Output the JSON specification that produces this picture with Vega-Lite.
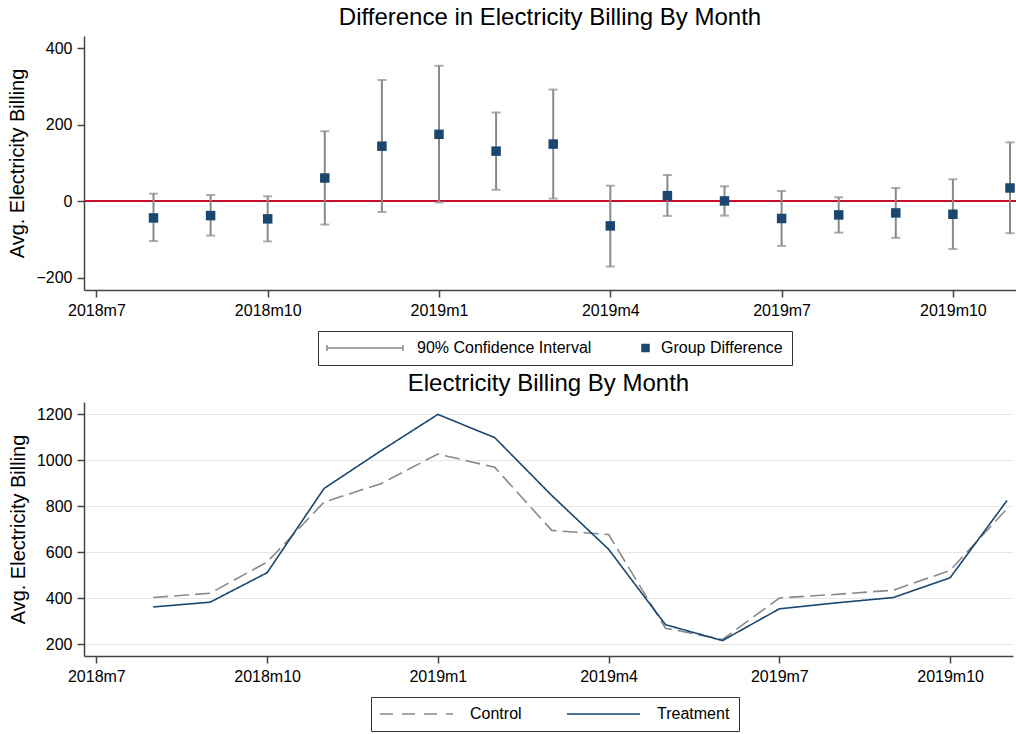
{
  "$schema": "https://vega.github.io/schema/vega-lite/v6.json",
  "background": "white",
  "padding": {"left": 7, "top": 6, "right": 0, "bottom": 0},
  "spacing": 6,
  "align": "none",
  "config": {
    "font": "Liberation Sans",
    "view": {"stroke": null},
    "title": {"fontSize": 24, "fontWeight": "normal", "color": "#000", "font": "Liberation Sans", "offset": 6},
    "axis": {
      "labelFont": "Liberation Sans", "titleFont": "Liberation Sans",
      "labelFontSize": 16, "titleFontSize": 20, "titleFontWeight": "normal",
      "labelColor": "#000", "titleColor": "#000",
      "domainColor": "#444", "tickColor": "#444", "domainWidth": 1.5, "tickWidth": 1.5, "tickSize": 7,
      "labelPadding": 5
    },
    "legend": {"labelFont": "Liberation Sans", "labelFontSize": 16, "labelColor": "#000", "labelLimit": 0}
  },
  "resolve": {"scale": {"color": "independent", "x": "independent", "y": "independent"}, "legend": {"color": "independent"}},
  "vconcat": [
    {
      "title": {"text": "Difference in Electricity Billing By Month"},
      "width": 932,
      "height": 254,
      "data": {"values": [
        {"month": "2018m8", "diff": -43.6, "lo": -104, "hi": 19.8},
        {"month": "2018m9", "diff": -37.5, "lo": -89.7, "hi": 16.4},
        {"month": "2018m10", "diff": -46, "lo": -105, "hi": 13},
        {"month": "2018m11", "diff": 60.8, "lo": -61, "hi": 183},
        {"month": "2018m12", "diff": 144, "lo": -28, "hi": 317},
        {"month": "2019m1", "diff": 175, "lo": -3, "hi": 354},
        {"month": "2019m2", "diff": 131, "lo": 30, "hi": 232},
        {"month": "2019m3", "diff": 149.5, "lo": 7, "hi": 292},
        {"month": "2019m4", "diff": -64.4, "lo": -170.6, "hi": 40.7},
        {"month": "2019m5", "diff": 14.6, "lo": -38.4, "hi": 68.6},
        {"month": "2019m6", "diff": 0.8, "lo": -37.5, "hi": 39},
        {"month": "2019m7", "diff": -45, "lo": -116.6, "hi": 27},
        {"month": "2019m8", "diff": -35.7, "lo": -82, "hi": 10.4},
        {"month": "2019m9", "diff": -30.5, "lo": -95.7, "hi": 34.7},
        {"month": "2019m10", "diff": -34, "lo": -125, "hi": 57.4},
        {"month": "2019m11", "diff": 34.7, "lo": -83.5, "hi": 154}
      ]},
      "layer": [
        {
          "mark": {"type": "rule", "color": "#c8102e", "strokeWidth": 1.6},
          "encoding": {
            "y": {"datum": 0, "type": "quantitative", "title": "Avg. Electricity Billing",
              "scale": {"domain": [-232, 432], "nice": false, "zero": false},
              "axis": {"values": [-200, 0, 200, 400], "grid": false, "titlePadding": 8}}
          }
        },
        {
          "mark": {"type": "rule", "strokeWidth": 2},
          "encoding": {
            "x": {"field": "month", "type": "ordinal", "title": null,
              "scale": {"type": "point", "domain": ["2018m7","2018m8","2018m9","2018m10","2018m11","2018m12","2019m1","2019m2","2019m3","2019m4","2019m5","2019m6","2019m7","2019m8","2019m9","2019m10","2019m11"], "padding": 0.161, "align": 0.674},
              "axis": {"values": ["2018m7","2018m10","2019m1","2019m4","2019m7","2019m10"], "labelAngle": 0, "grid": false, "labelPadding": 5}},
            "y": {"field": "lo", "type": "quantitative", "title": "Avg. Electricity Billing"},
            "y2": {"field": "hi"},
            "color": {"datum": "90% Confidence Interval", "type": "nominal",
              "scale": {"domain": ["90% Confidence Interval", "Group Difference"], "range": ["#8a8a8a", "#1a476f"]},
              "legend": {
                "title": null, "orient": "none", "legendX": 234, "legendY": 295, "direction": "horizontal",
                "strokeColor": "#333", "padding": 9, "columnPadding": 47, "symbolSize": 100,
                "labelFontSize": 16,
                "encode": {
                  "symbols": {"update": {
                    "shape": {"signal": "datum.value === 'Group Difference' ? 'square' : 'M-7.6,0H7.6M-7.6,-0.6V0.6M7.6,-0.6V0.6'"},
                    "size": {"signal": "datum.value === 'Group Difference' ? 49 : 100"},
                    "x": {"signal": "datum.value === 'Group Difference' ? 3.5 : 38"},
                    "fill": {"signal": "datum.value === 'Group Difference' ? '#1a476f' : 'transparent'"},
                    "stroke": {"signal": "datum.value === 'Group Difference' ? 'transparent' : '#8a8a8a'"},
                    "strokeWidth": {"value": 1.5},
                    "opacity": {"value": 1}
                  }},
                  "labels": {"update": {"x": {"signal": "datum.value === 'Group Difference' ? 19 : 90"}}}
                }
              }}
          }
        },
        {
          "mark": {"type": "tick", "thickness": 2, "size": 9, "color": "#8a8a8a"},
          "encoding": {
            "x": {"field": "month", "type": "ordinal"},
            "y": {"field": "lo", "type": "quantitative", "title": "Avg. Electricity Billing"}
          }
        },
        {
          "mark": {"type": "tick", "thickness": 2, "size": 9, "color": "#8a8a8a"},
          "encoding": {
            "x": {"field": "month", "type": "ordinal"},
            "y": {"field": "hi", "type": "quantitative", "title": "Avg. Electricity Billing"}
          }
        },
        {
          "mark": {"type": "point", "shape": "square", "filled": true, "size": 90, "opacity": 1},
          "encoding": {
            "x": {"field": "month", "type": "ordinal"},
            "y": {"field": "diff", "type": "quantitative", "title": "Avg. Electricity Billing"},
            "color": {"datum": "Group Difference", "type": "nominal"}
          }
        }
      ]
    },
    {
      "title": {"text": "Electricity Billing By Month"},
      "width": 929,
      "height": 254,
      "data": {"values": [
        {"month": "2018m8", "group": "Control", "billing": 404},
        {"month": "2018m9", "group": "Control", "billing": 423},
        {"month": "2018m10", "group": "Control", "billing": 558},
        {"month": "2018m11", "group": "Control", "billing": 819},
        {"month": "2018m12", "group": "Control", "billing": 899},
        {"month": "2019m1", "group": "Control", "billing": 1028},
        {"month": "2019m2", "group": "Control", "billing": 970},
        {"month": "2019m3", "group": "Control", "billing": 696},
        {"month": "2019m4", "group": "Control", "billing": 678},
        {"month": "2019m5", "group": "Control", "billing": 271},
        {"month": "2019m6", "group": "Control", "billing": 222},
        {"month": "2019m7", "group": "Control", "billing": 402},
        {"month": "2019m8", "group": "Control", "billing": 418},
        {"month": "2019m9", "group": "Control", "billing": 436},
        {"month": "2019m10", "group": "Control", "billing": 522},
        {"month": "2019m11", "group": "Control", "billing": 790},
        {"month": "2018m8", "group": "Treatment", "billing": 363},
        {"month": "2018m9", "group": "Treatment", "billing": 384},
        {"month": "2018m10", "group": "Treatment", "billing": 512},
        {"month": "2018m11", "group": "Treatment", "billing": 878},
        {"month": "2018m12", "group": "Treatment", "billing": 1042},
        {"month": "2019m1", "group": "Treatment", "billing": 1200},
        {"month": "2019m2", "group": "Treatment", "billing": 1099},
        {"month": "2019m3", "group": "Treatment", "billing": 848},
        {"month": "2019m4", "group": "Treatment", "billing": 614},
        {"month": "2019m5", "group": "Treatment", "billing": 286},
        {"month": "2019m6", "group": "Treatment", "billing": 217},
        {"month": "2019m7", "group": "Treatment", "billing": 355},
        {"month": "2019m8", "group": "Treatment", "billing": 381},
        {"month": "2019m9", "group": "Treatment", "billing": 404},
        {"month": "2019m10", "group": "Treatment", "billing": 490},
        {"month": "2019m11", "group": "Treatment", "billing": 826}
      ]},
      "mark": {"type": "line", "strokeWidth": 1.6},
      "encoding": {
        "x": {"field": "month", "type": "ordinal", "title": null,
          "scale": {"type": "point", "domain": ["2018m7","2018m8","2018m9","2018m10","2018m11","2018m12","2019m1","2019m2","2019m3","2019m4","2019m5","2019m6","2019m7","2019m8","2019m9","2019m10","2019m11"], "padding": 0.161, "align": 0.674},
          "axis": {"values": ["2018m7","2018m10","2019m1","2019m4","2019m7","2019m10"], "labelAngle": 0, "grid": false, "labelPadding": 5}},
        "y": {"field": "billing", "type": "quantitative", "title": "Avg. Electricity Billing",
          "scale": {"domain": [150, 1254], "nice": false, "zero": false},
          "axis": {"values": [200, 400, 600, 800, 1000, 1200], "format": "d", "grid": true, "gridColor": "#e6e6e6", "gridWidth": 1, "titlePadding": 8}},
        "color": {"field": "group", "type": "nominal",
          "scale": {"domain": ["Control", "Treatment"], "range": ["#8a8a8a", "#1a476f"]},
          "legend": {"title": null, "orient": "none", "legendX": 287, "legendY": 295, "direction": "horizontal",
            "strokeColor": "#333", "padding": 9, "symbolSize": 100, "symbolStrokeWidth": 1.5,
            "columnPadding": 42, "labelFontSize": 16,
            "encode": {
              "symbols": {"update": {
                "shape": {"value": "M-7.3,0H7.3"},
                "x": {"value": 36.5},
                "stroke": {"signal": "datum.value === 'Control' ? '#8a8a8a' : '#1a476f'"},
                "strokeDash": {"signal": "datum.value === 'Control' ? [13, 9] : [1, 0]"},
                "strokeWidth": {"value": 1.5},
                "opacity": {"value": 1}
              }},
              "labels": {"update": {"x": {"value": 90}}}
            }}},
        "strokeDash": {"field": "group", "type": "nominal",
          "scale": {"domain": ["Control", "Treatment"], "range": [[15, 6], [1, 0]]}}
      }
    }
  ]
}
